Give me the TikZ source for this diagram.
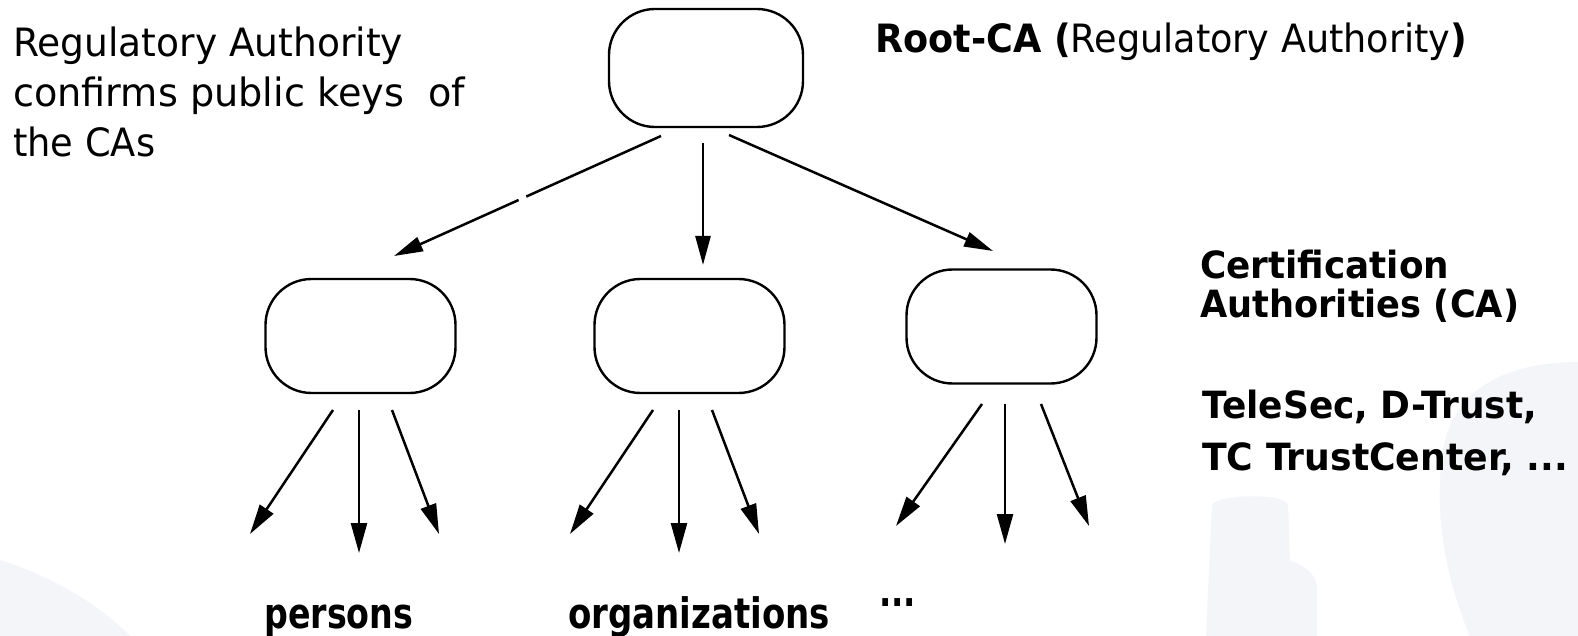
\documentclass[tikz,border=0pt]{standalone}
\usepackage{fontspec}
\usepackage{graphicx}
\setmainfont{DejaVu Sans}
\usetikzlibrary{arrows.meta,calc}
\definecolor{wm}{RGB}{244,245,248}
\newcommand{\regtxt}{\fontsize{39}{47}\selectfont}
\newcommand{\sidetxt}{\fontsize{37.5}{45}\selectfont\bfseries}
\newcommand{\bottxt}{\fontsize{42}{50}\selectfont\bfseries}
\newcommand{\fitw}[2]{\resizebox{#1}{\height}{#2}}
\tikzset{
  cabox/.style={draw=black, line width=2.4pt, rounded corners=46pt, inner sep=0pt,
    minimum width=190pt, minimum height=114pt},
  arr/.style={line width=2.5pt, -{Triangle[length=29pt,width=15pt]}},
  arrs/.style={line width=2.5pt, -{Triangle[length=30pt,width=16pt]}},
  lbl/.style={anchor=base west, inner sep=0pt}
}
\begin{document}
\begin{tikzpicture}[x=1pt,y=-1pt]
\useasboundingbox (0,0) rectangle (1578,636);
% faint background shapes
\fill[wm] (1578,362) .. controls (1520,362) and (1455,380) .. (1443,450)
  .. controls (1432,520) and (1450,590) .. (1470,636) -- (1578,636) -- cycle;
\fill[wm] (1212,505) .. controls (1215,495) and (1285,492) .. (1288,505)
  -- (1290,560) .. controls (1300,565) and (1317,570) .. (1317,590)
  -- (1317,636) -- (1206,636) -- cycle;
\fill[wm] (0,560) .. controls (50,575) and (100,605) .. (130,636) -- (0,636) -- cycle;

% boxes
\node[cabox, minimum width=194pt, minimum height=118pt] (root) at (706,68) {};
\node[cabox] (ca1) at (360.5,336) {};
\node[cabox] (ca2) at (689.5,336) {};
\node[cabox] (ca3) at (1001.5,326.5) {};

% arrows from root
\coordinate (r1s) at (661,136); \coordinate (r1e) at (394,256);
\coordinate (r2s) at (703,143); \coordinate (r2e) at (703,265);
\coordinate (r3s) at (729,135); \coordinate (r3e) at (993,251);
\draw[arr] (r1s) -- (r1e);
\draw[arr] (r2s) -- (r2e);
\draw[arr] (r3s) -- (r3e);
% small break in the left connector
\draw[white, line width=4pt] ($(r1s)!0.505!(r1e)$) -- ($(r1s)!0.533!(r1e)$);

% arrows from CAs
\coordinate (a1s) at (333,410); \coordinate (a1e) at (250,534);
\coordinate (a2s) at (359,410); \coordinate (a2e) at (359,553);
\coordinate (a3s) at (392,410); \coordinate (a3e) at (439,534);
\coordinate (b1s) at (653,410); \coordinate (b1e) at (570,534);
\coordinate (b2s) at (679,410); \coordinate (b2e) at (679,553);
\coordinate (b3s) at (712,410); \coordinate (b3e) at (759,534);
\coordinate (c1s) at (982,404); \coordinate (c1e) at (896,526);
\coordinate (c2s) at (1005,404); \coordinate (c2e) at (1005,544);
\coordinate (c3s) at (1041,404); \coordinate (c3e) at (1089,526);
\foreach \p in {a,b,c}{
  \foreach \i in {1,2,3}{
    \draw[arrs] (\p\i s) -- (\p\i e);
  }
}

% texts
\node[lbl, font=\regtxt] (lt1) at (13,57) {\fitw{390pt}{Regulatory Authority}};
\node[lbl, font=\regtxt] (lt2) at (13,107) {\fitw{452pt}{confirms public keys~~of}};
\node[lbl, font=\regtxt] (lt3) at (13,157) {\fitw{142pt}{the CAs}};

\node[lbl, font=\regtxt] (rootlbl) at (875,53)
  {\fitw{592pt}{{\bfseries Root-CA (}Regulatory Authority{\bfseries )}}};

\node[lbl, font=\sidetxt] (cert1) at (1200,278) {\fitw{249pt}{Certification}};
\node[lbl, font=\sidetxt] (cert2) at (1200,317) {\fitw{319pt}{Authorities (CA)}};
\node[lbl, font=\sidetxt] (ts1) at (1202,418) {\fitw{335pt}{TeleSec, D-Trust,}};
\node[lbl, font=\sidetxt] (ts2) at (1202,470) {\fitw{366pt}{TC TrustCenter, ...}};

\node[lbl, font=\bottxt] (pers) at (264,628) {\fitw{149pt}{persons}};
\node[lbl, font=\bottxt] (orgs) at (568,628) {\fitw{262pt}{organizations}};
\node[lbl, font=\bottxt] (dots) at (879,606) {\fitw{37pt}{...}};
\end{tikzpicture}
\end{document}
